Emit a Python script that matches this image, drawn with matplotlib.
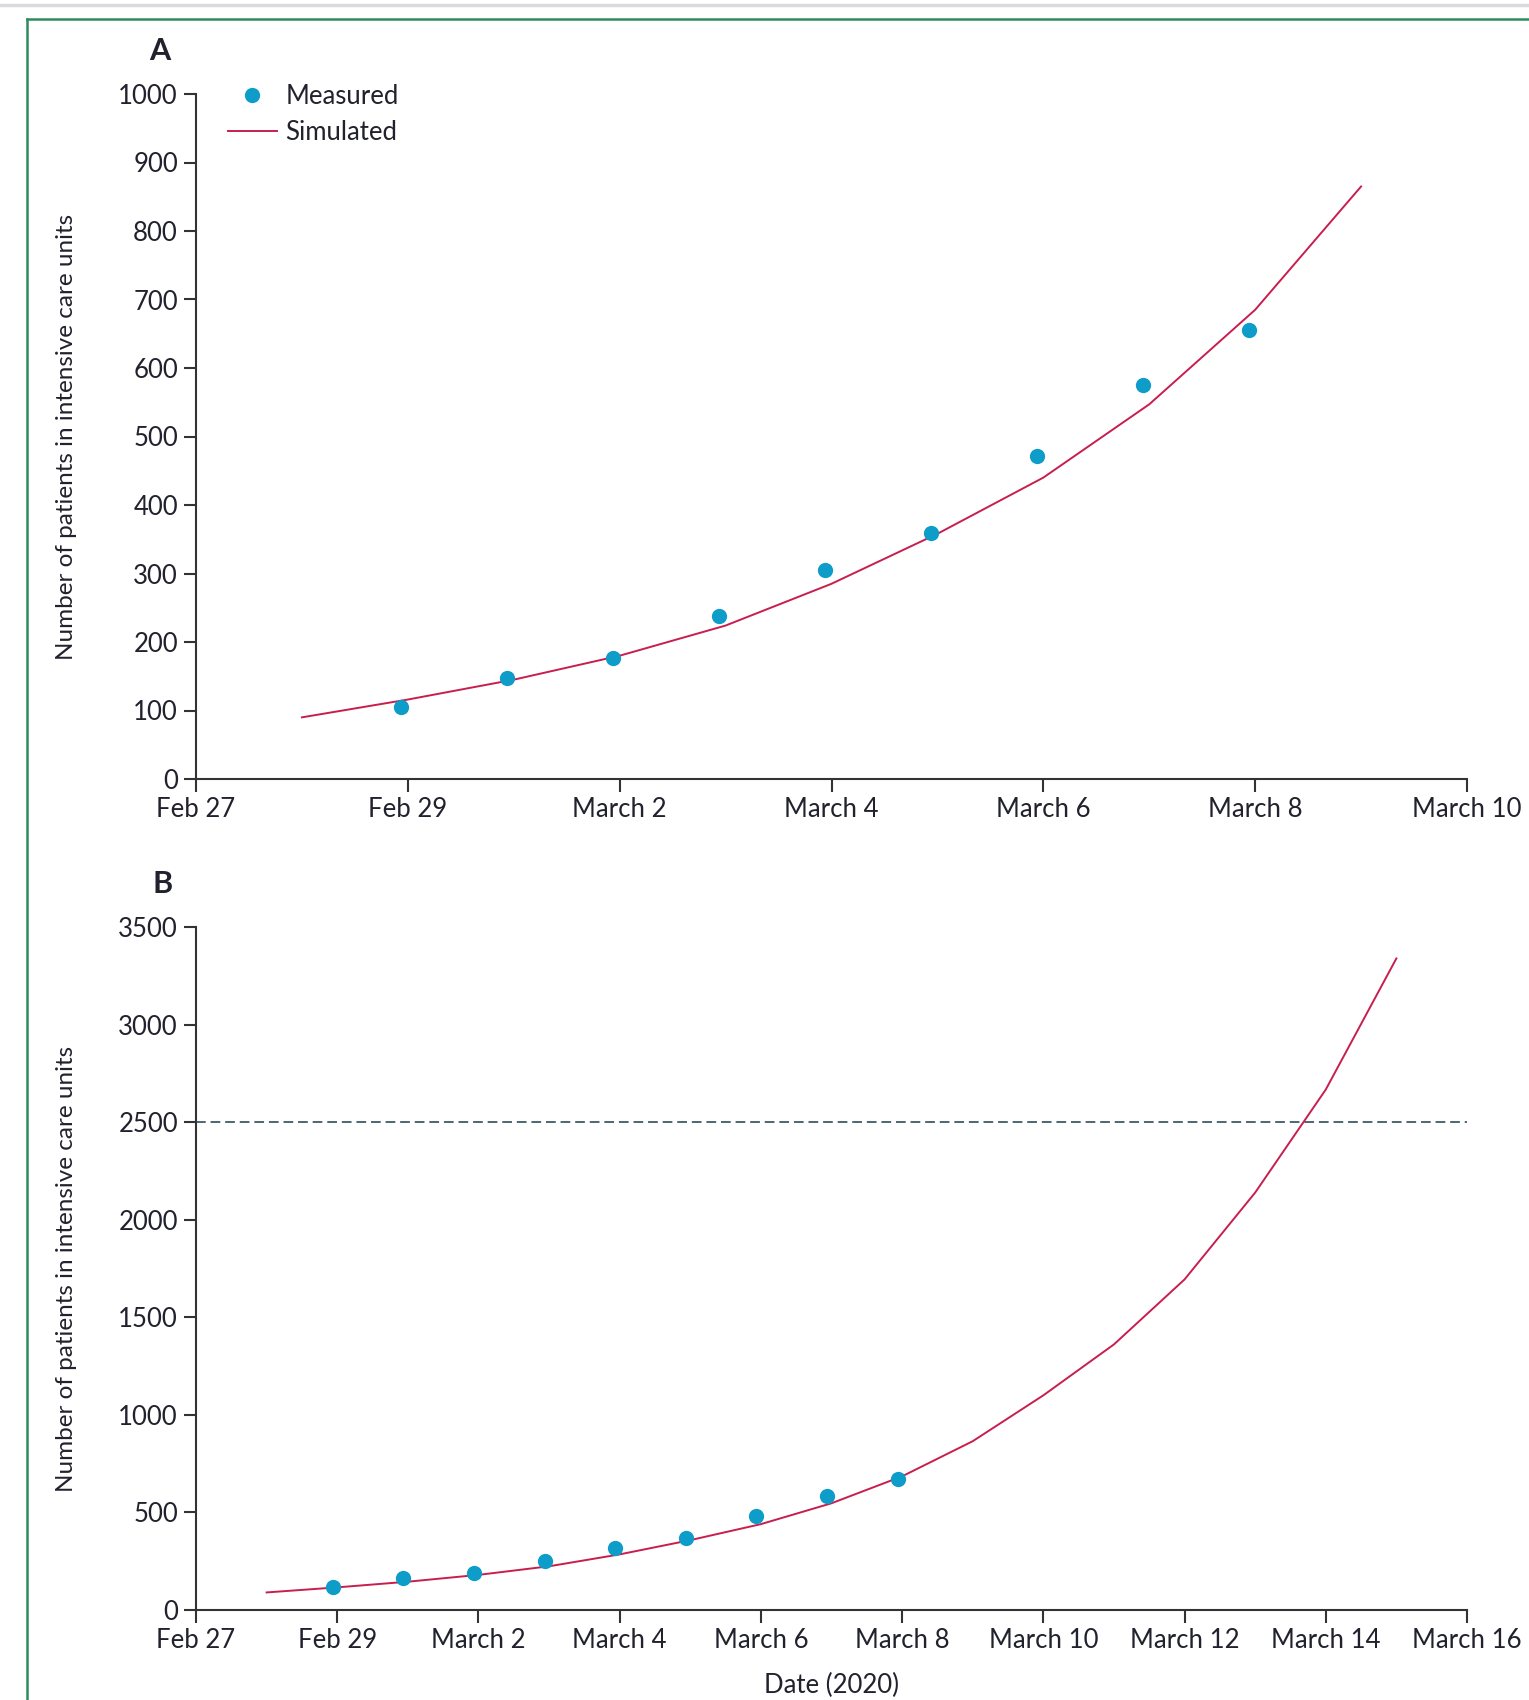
import numpy as np
import pandas as pd
import matplotlib
matplotlib.use("Agg")
import matplotlib.pyplot as plt
from matplotlib.lines import Line2D

plt.rcParams['font.family'] = ['Lato', 'DejaVu Sans']

# measured ICU patients
measured_dates = pd.date_range("2020-02-29", "2020-03-08") - pd.Timedelta(hours=1.5)
measured_a = [105, 147, 177, 238, 305, 359, 471, 575, 656]
measured_b = [117, 162, 189, 250, 317, 367, 483, 583, 672]

# simulated curve, one value per day
sim_dates = pd.date_range("2020-02-28", "2020-03-15")
simulated = [90, 116, 145, 180, 224, 285, 358, 440, 547, 685, 865,
             1100, 1361, 1694, 2139, 2667, 3339]
sim_end_a = pd.Timestamp("2020-03-09")

capacity = 2500

ticks_a = pd.date_range("2020-02-27", "2020-03-10", freq="2D")
labels_a = ["Feb 27", "Feb 29", "March 2", "March 4", "March 6", "March 8", "March 10"]
ticks_b = pd.date_range("2020-02-27", "2020-03-16", freq="2D")
labels_b = labels_a + ["March 12", "March 14", "March 16"]

ylabel = "Number of patients in intensive care units"
txt = "#22222e"
axc = "#333333"
blue = "#0e9cc9"
red = "#c81e4e"

W, H = 1529, 1700
fig = plt.figure(figsize=(W / 100, H / 100), dpi=100)

left = 196 / W
width = (1467 - 196) / W
ax_a = fig.add_axes([left, 1 - 779 / H, width, (779 - 94) / H])
ax_b = fig.add_axes([left, 1 - 1610 / H, width, (1610 - 927) / H])

for ax in (ax_a, ax_b):
    for s in ['top', 'right']:
        ax.spines[s].set_visible(False)
    for s in ['left', 'bottom']:
        ax.spines[s].set_linewidth(1.5)
        ax.spines[s].set_color(axc)
    ax.tick_params(direction='out', length=9, width=1.5, color=axc,
                   labelsize=18.5, labelcolor=txt, pad=4)
    ax.set_ylabel(ylabel, fontsize=17.5, color=txt, labelpad=30)

# panel A
sim_a = sim_dates <= sim_end_a
ax_a.plot(sim_dates[sim_a], np.array(simulated)[sim_a], color=red, lw=1.4, label="Simulated", zorder=2)
ax_a.plot(measured_dates, measured_a, 'o', color=blue, ms=11, mec='none', label="Measured", zorder=3)
ax_a.set_xlim(ticks_a[0], ticks_a[-1])
ax_a.set_ylim(0, 1000)
ax_a.set_yticks(np.arange(0, 1001, 100))
ax_a.set_xticks(ticks_a)
ax_a.set_xticklabels(labels_a)
h, l = ax_a.get_legend_handles_labels()
ax_a.legend(h[::-1], l[::-1], loc='upper left', bbox_to_anchor=(0.025, 1.015), frameon=False,
            fontsize=18.5, handlelength=1.9, handletextpad=0.35, labelspacing=0.42,
            borderpad=0, borderaxespad=0, labelcolor=txt)
ax_a.text(160 / W, 1 - 51 / H, "A", transform=fig.transFigure, fontsize=22, fontweight='bold',
          color=txt, ha='center', va='center')

# panel B
ax_b.plot(sim_dates, simulated, color=red, lw=1.4, zorder=2)
ax_b.plot(measured_dates, measured_b, 'o', color=blue, ms=11, mec='none', zorder=3)
ax_b.axhline(capacity, color="#4d6670", lw=1.4, dashes=(5, 2.5), zorder=1)
ax_b.set_xlim(ticks_b[0], ticks_b[-1])
ax_b.set_ylim(0, 3500)
ax_b.set_yticks(np.arange(0, 3501, 500))
ax_b.set_xticks(ticks_b)
ax_b.set_xticklabels(labels_b)
ax_b.set_xlabel("Date (2020)", fontsize=18.5, color=txt, labelpad=14)
ax_b.text(163 / W, 1 - 884 / H, "B", transform=fig.transFigure, fontsize=22, fontweight='bold',
          color=txt, ha='center', va='center')

# page frame
fig.add_artist(Line2D([0, 1], [1 - 5 / H, 1 - 5 / H], color="#dddadf", lw=2.5, transform=fig.transFigure))
fig.add_artist(Line2D([27 / W, 1.01], [1 - 19 / H, 1 - 19 / H], color="#2e8b5e", lw=1.8, transform=fig.transFigure))
fig.add_artist(Line2D([27 / W, 27 / W], [1 - 19 / H, -0.01], color="#2e8b5e", lw=1.8, transform=fig.transFigure))

fig.savefig("out.png", dpi=100)
